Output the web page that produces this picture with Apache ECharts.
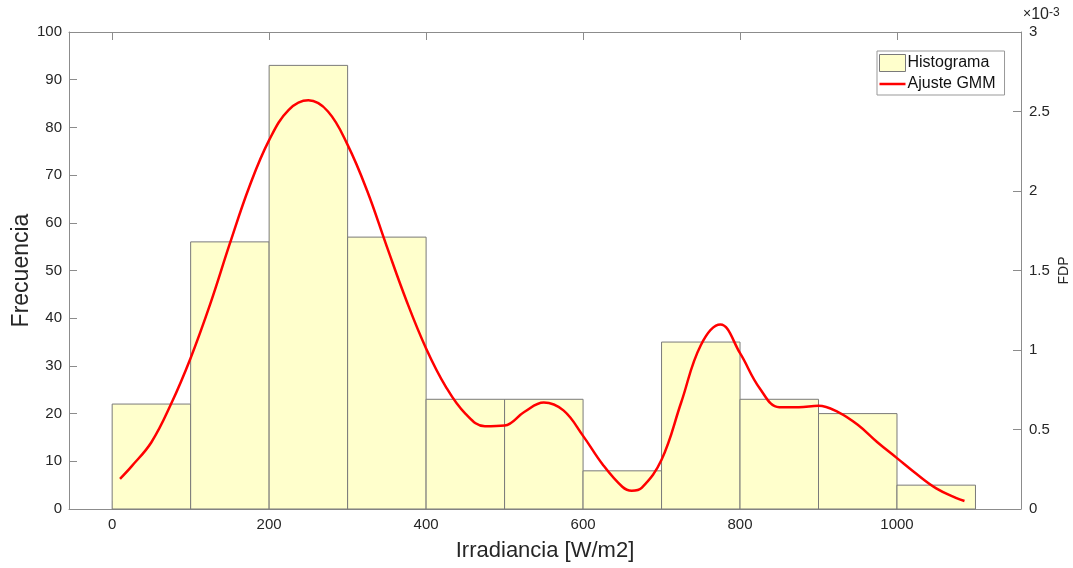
<!DOCTYPE html>
<html>
<head>
<meta charset="utf-8">
<script src="https://cdn.jsdelivr.net/npm/echarts@6/dist/echarts.min.js"></script>
<style>
  html, body { margin: 0; padding: 0; background: #fff; }
  #main { width: 1073px; height: 568px; }
</style>
</head>
<body>
<div id="main"></div>
<script>
// histograma: bordes de clase y frecuencias
const binEdges = [0, 100, 200, 300, 400, 500, 600, 700, 800, 900, 1000, 1100];
const counts = [22, 56, 93, 57, 23, 23, 8, 35, 23, 20, 5];
// ajuste GMM (FDP en unidades de 1e-3)
const gmmX = [10, 25, 50, 75, 100, 125, 150, 175, 200, 225, 250, 275, 300, 325, 350, 375, 400, 425, 450, 475, 500, 525, 550, 575, 600, 625, 650, 662, 675, 700, 725, 750, 775, 800, 825, 850, 875, 900, 925, 950, 975, 1000, 1025, 1050, 1075, 1086];
const gmmY = [0.19, 0.27, 0.42, 0.66, 0.95, 1.29, 1.67, 2.03, 2.32, 2.51, 2.57, 2.50, 2.29, 2.00, 1.65, 1.31, 1.01, 0.77, 0.60, 0.52, 0.525, 0.61, 0.67, 0.62, 0.46, 0.28, 0.14, 0.115, 0.135, 0.31, 0.67, 1.03, 1.16, 0.98, 0.76, 0.64, 0.64, 0.65, 0.61, 0.53, 0.42, 0.32, 0.22, 0.13, 0.07, 0.05];
const xTicks = [0, 200, 400, 600, 800, 1000];

const histData = counts.map((c, i) => [binEdges[i], binEdges[i + 1], c]);
const lineData = gmmX.map((x, i) => [x, gmmY[i]]);

const myChart = echarts.init(document.getElementById('main'));
const axisCol = '#8c8c8c';
const txtCol = '#262626';
const barFill = '#ffffcc';
const barEdge = '#7a7a7a';
const font = 'Liberation Sans, Arial, sans-serif';

const option = {
  animation: false,
  textStyle: { fontFamily: font },
  grid: { left: 69, right: 52, top: 32, bottom: 59, outerBoundsMode: 'none', containLabel: false },
  legend: {
    left: 877, top: 51, orient: 'vertical',
    borderColor: '#999', borderWidth: 1, padding: [3, 9, 3, 2],
    itemGap: 4, itemWidth: 26, itemHeight: 17,
    textStyle: { fontSize: 16, color: '#111', padding: [0, 0, 0, -3] },
    data: [
      { name: 'Histograma', icon: 'rect', itemStyle: { color: barFill, borderColor: barEdge, borderWidth: 1 } },
      { name: 'Ajuste GMM', icon: 'path://M0,0h26v2.5h-26z', itemStyle: { color: '#ff0000' } }
    ]
  },
  xAxis: [{
    type: 'value', min: -55, max: 1158,
    name: 'Irradiancia [W/m2]', nameLocation: 'middle', nameGap: 31,
    nameTextStyle: { fontSize: 22, color: txtCol },
    axisLine: { show: true, onZero: false, lineStyle: { color: axisCol } },
    axisTick: { show: true, inside: true, length: 8, customValues: xTicks, lineStyle: { color: axisCol } },
    axisLabel: { customValues: xTicks, fontSize: 15, color: txtCol, margin: 8, formatter: v => String(v) },
    splitLine: { show: false }
  }, {
    type: 'value', min: -55, max: 1158, position: 'top',
    axisLine: { show: true, onZero: false, lineStyle: { color: axisCol } },
    axisTick: { show: true, inside: true, length: 8, customValues: xTicks, lineStyle: { color: axisCol } },
    axisLabel: { show: false },
    splitLine: { show: false }
  }],
  yAxis: [{
    type: 'value', min: 0, max: 100, interval: 10,
    name: 'Frecuencia', nameLocation: 'middle', nameGap: 36, nameRotate: 90, nameMoveOverlap: false,
    nameTextStyle: { fontSize: 23, color: txtCol },
    axisLine: { show: true, onZero: false, lineStyle: { color: axisCol } },
    axisTick: { show: true, inside: true, length: 8, lineStyle: { color: axisCol } },
    axisLabel: { fontSize: 15, color: txtCol, margin: 7 },
    splitLine: { show: false }
  }, {
    type: 'value', min: 0, max: 3, interval: 0.5, position: 'right',
    name: 'FDP', nameLocation: 'middle', nameGap: 36, nameRotate: 90, nameMoveOverlap: false,
    nameTextStyle: { fontSize: 14, color: txtCol },
    axisLine: { show: true, onZero: false, lineStyle: { color: axisCol } },
    axisTick: { show: true, inside: true, length: 8, lineStyle: { color: axisCol } },
    axisLabel: { fontSize: 15, color: txtCol, margin: 8 },
    splitLine: { show: false }
  }],
  graphic: [{
    type: 'text', left: 1023, top: 7,
    style: {
      text: '{a|×}{b|10}{c|-3}',
      rich: {
        a: { fontSize: 14, fill: txtCol, fontFamily: font, verticalAlign: 'top' },
        b: { fontSize: 16, fill: txtCol, fontFamily: font },
        c: { fontSize: 12, fill: txtCol, fontFamily: font, verticalAlign: 'top' }
      }
    }
  }],
  series: [{
    name: 'Histograma',
    type: 'custom',
    xAxisIndex: 0, yAxisIndex: 0,
    itemStyle: { color: barFill, borderColor: barEdge, borderWidth: 1 },
    renderItem: function (params, api) {
      const p0 = api.coord([api.value(0), 0]);
      const p1 = api.coord([api.value(1), api.value(2)]);
      return {
        type: 'rect',
        shape: { x: p0[0], y: p1[1], width: p1[0] - p0[0], height: p0[1] - p1[1] },
        style: { fill: barFill, stroke: barEdge, lineWidth: 1 }
      };
    },
    encode: { x: [0, 1], y: 2 },
    data: histData
  }, {
    name: 'Ajuste GMM',
    type: 'line',
    xAxisIndex: 0, yAxisIndex: 1,
    smooth: 0.4,
    symbol: 'none',
    lineStyle: { color: '#ff0000', width: 2.5 },
    itemStyle: { color: '#ff0000' },
    data: lineData,
    z: 5
  }]
};

myChart.setOption(option);
</script>
</body>
</html>
